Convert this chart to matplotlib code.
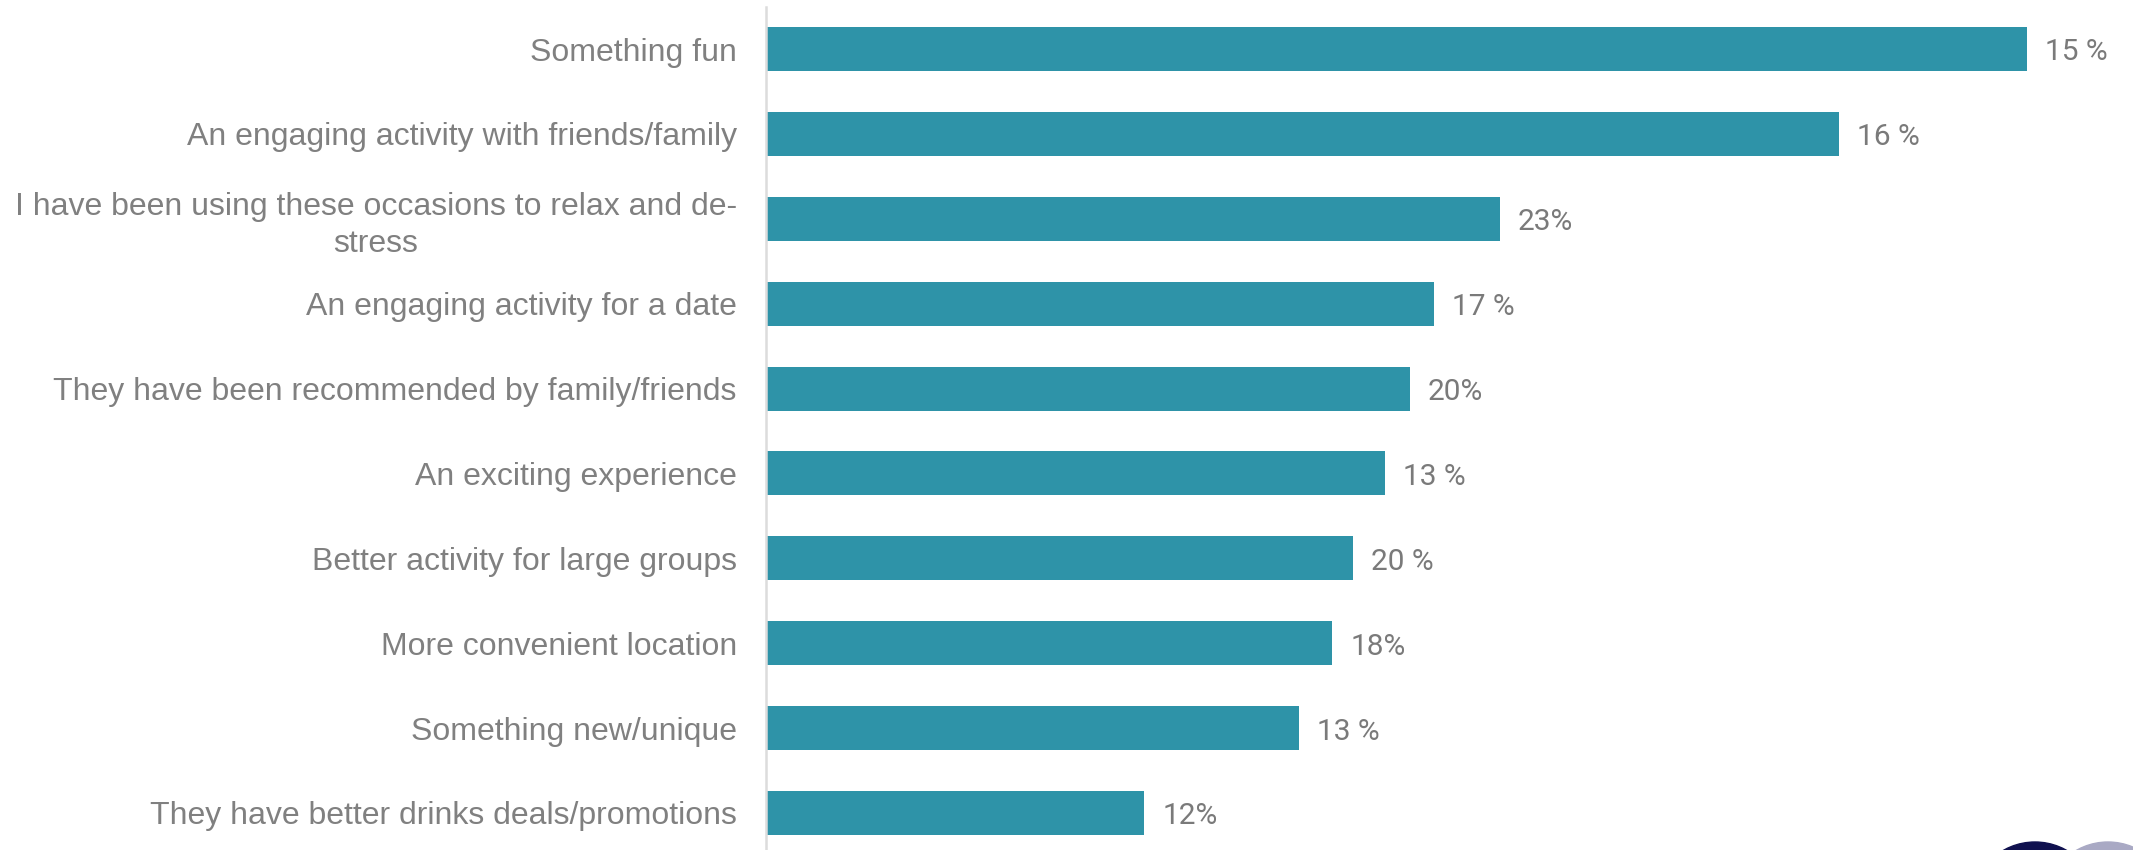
import matplotlib
matplotlib.use("Agg")
import matplotlib.pyplot as plt
from matplotlib.patches import Circle

categories = [
    "Something fun",
    "An engaging activity with friends/family",
    "I have been using these occasions to relax and de-\nstress",
    "An engaging activity for a date",
    "They have been recommended by family/friends",
    "An exciting experience",
    "Better activity for large groups",
    "More convenient location",
    "Something new/unique",
    "They have better drinks deals/promotions",
]
values = [33.0, 28.08, 19.21, 17.49, 16.85, 16.21, 15.37, 14.82, 13.95, 9.90]
value_labels = ["15 %", "16 %", "23%", "17 %", "20%", "13 %", "20 %", "18%", "13 %", "12%"]

W, H, DPI = 2133, 850, 100
fig = plt.figure(figsize=(W / DPI, H / DPI), dpi=DPI)
ax = fig.add_axes([766 / W, 0, 1 - 766 / W, 843 / H])

ypos = list(range(len(categories)))
ax.barh(ypos, values, height=0.518, color="#2e93a8", edgecolor="none")
ax.set_xlim(0, (W - 766) / 38.2)
ax.set_ylim(9.436, -0.495)

ax.set_yticks(ypos)
ax.set_yticklabels(categories, fontsize=23, color="#808080",
                   family=["Liberation Sans", "DejaVu Sans"], multialignment="center",
                   linespacing=1.3)
ax.tick_params(axis="y", length=0, pad=21)
ax.set_xticks([])

for s in ["top", "right", "bottom"]:
    ax.spines[s].set_visible(False)
ax.spines["left"].set_color("#dcdcdc")
ax.spines["left"].set_linewidth(1.8)

for y, v, lab in zip(ypos, values, value_labels):
    ax.annotate(lab, xy=(v, y), xytext=(13, -2.5), textcoords="offset points",
                ha="left", va="center", fontsize=21.5, color="#7a7a7a",
                family=["Roboto", "DejaVu Sans"], fontweight="normal")

fig.add_artist(Circle((20.35, -0.56), 0.64, transform=fig.dpi_scale_trans,
                      color="#10114f", clip_on=False))
fig.add_artist(Circle((21.08, -0.56), 0.64, transform=fig.dpi_scale_trans,
                      color="#a9a9c4", clip_on=False))

fig.savefig("out.png", dpi=DPI)
